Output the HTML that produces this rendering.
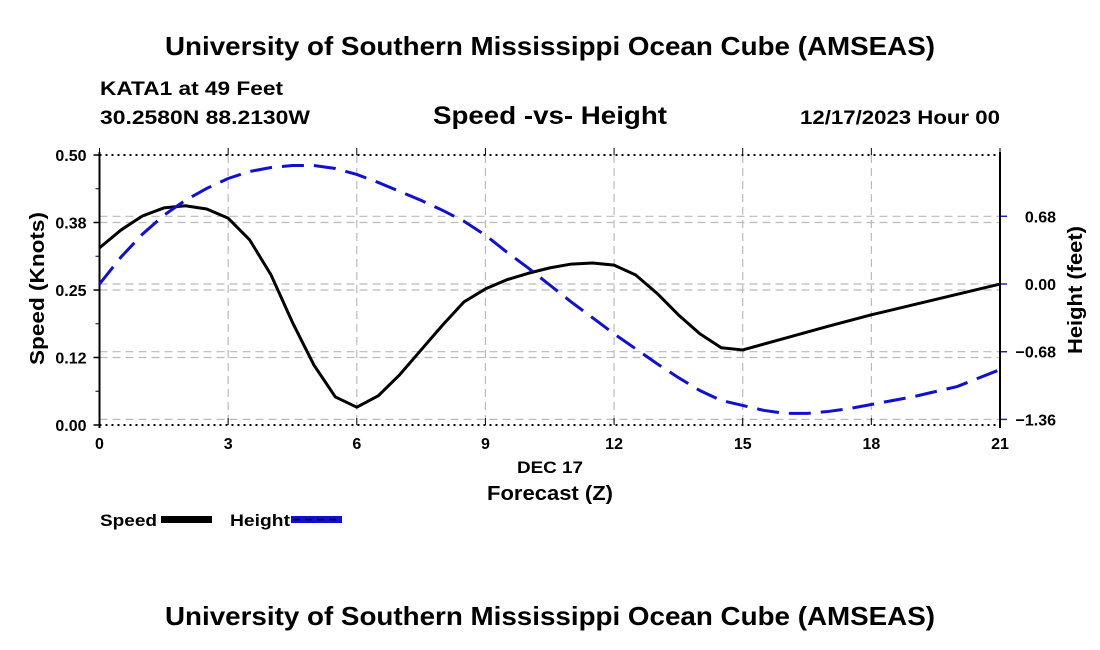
<!DOCTYPE html>
<html><head><meta charset="utf-8"><style>
body{margin:0;background:#fff;width:1100px;height:650px;overflow:hidden}
svg{display:block;font-family:"Liberation Sans",Arial,sans-serif;font-weight:bold}
</style></head><body>
<svg id="chart" width="1100" height="650" viewBox="0 0 1100 650">
<text x="165" y="55" font-size="26" textLength="770" lengthAdjust="spacingAndGlyphs">University of Southern Mississippi Ocean Cube (AMSEAS)</text>
<text x="100" y="95" font-size="19" textLength="183" lengthAdjust="spacingAndGlyphs">KATA1 at 49 Feet</text>
<text x="100" y="124" font-size="19" textLength="210" lengthAdjust="spacingAndGlyphs">30.2580N  88.2130W</text>
<text x="433" y="124" font-size="25" textLength="234" lengthAdjust="spacingAndGlyphs">Speed -vs- Height</text>
<text x="800" y="124" font-size="19" textLength="200" lengthAdjust="spacingAndGlyphs">12/17/2023 Hour 00</text>
<g id="grid"></g>
<g id="axes"></g>
<g id="series"></g>
<text x="517" y="473" font-size="17" textLength="66" lengthAdjust="spacingAndGlyphs">DEC 17</text>
<text x="487" y="500" font-size="20" textLength="126" lengthAdjust="spacingAndGlyphs">Forecast (Z)</text>
<text transform="translate(44,365) rotate(-90)" font-size="20" textLength="153" lengthAdjust="spacingAndGlyphs">Speed (Knots)</text>
<text transform="translate(1082,354) rotate(-90)" font-size="20" textLength="128" lengthAdjust="spacingAndGlyphs">Height (feet)</text>
<g>
<text x="100" y="526" font-size="17" textLength="57" lengthAdjust="spacingAndGlyphs">Speed</text>
<rect x="161" y="516" width="51" height="7" fill="#000"/>
<text x="230" y="526" font-size="17" textLength="60" lengthAdjust="spacingAndGlyphs">Height</text>
<rect x="291" y="516" width="51" height="7" fill="#1010d0"/>
<line x1="293" y1="519.5" x2="340" y2="519.5" stroke="#000" stroke-width="1.5" stroke-dasharray="7,5"/>
</g>
<text x="165" y="625" font-size="26" textLength="770" lengthAdjust="spacingAndGlyphs">University of Southern Mississippi Ocean Cube (AMSEAS)</text>
</svg>
<script>
const xTicks=[0,3,6,9,12,15,18,21];
const leftTicks=[0,0.125,0.25,0.375,0.5];
const leftTickLabels=["0.00","0.12","0.25","0.38","0.50"];
const rightTicks=[-1.36,-0.68,0,0.68];
const rightTickLabels=["\u22121.36","\u22120.68","0.00","0.68"];
const speedHours=[0,0.5,1,1.5,2,2.5,3,3.5,4,4.5,5,5.5,6,6.5,7,7.5,8,8.5,9,9.5,10,10.5,11,11.5,12,12.5,13,13.5,14,14.5,15,16,17,18,19,20,21];
const speedValues=[0.328,0.361,0.387,0.402,0.406,0.40,0.383,0.343,0.278,0.19,0.111,0.052,0.033,0.054,0.093,0.139,0.185,0.228,0.252,0.269,0.281,0.291,0.298,0.30,0.296,0.278,0.244,0.204,0.169,0.143,0.139,0.161,0.183,0.204,0.223,0.242,0.261];
const heightHours=[0,0.5,1,1.5,2,2.5,3,3.5,4,4.5,5,5.5,6,6.5,7,7.5,8,8.5,9,9.5,10,10.5,11,11.5,12,12.5,13,13.5,14,14.5,15,15.5,16,16.5,17,17.5,18,19,20,21];
const heightValues=[0.0,0.27,0.50,0.69,0.84,0.96,1.06,1.13,1.17,1.19,1.19,1.16,1.10,1.02,0.93,0.84,0.74,0.63,0.49,0.32,0.16,-0.01,-0.18,-0.34,-0.50,-0.65,-0.80,-0.94,-1.07,-1.17,-1.22,-1.27,-1.30,-1.30,-1.28,-1.25,-1.21,-1.13,-1.03,-0.86];
const NS="http://www.w3.org/2000/svg";
const X0=99.5,X1=1000,YT=155,YB=425;
const xs=t=>X0+(X1-X0)*t/21;
const yl=v=>YB-(YB-YT)*v/0.5;
const yr=h=>284-h*(67.7/0.68);
function mk(tag,attrs,parent){const e=document.createElementNS(NS,tag);for(const k in attrs)e.setAttribute(k,attrs[k]);parent.appendChild(e);return e;}
const grid=document.getElementById('grid'),axes=document.getElementById('axes'),series=document.getElementById('series');
xTicks.forEach(t=>{if(t>0&&t<21){const l=mk('line',{x1:xs(t),x2:xs(t),y1:YT,y2:YB,stroke:'#bbb','stroke-width':1.2,'stroke-dasharray':'8,5'},grid);

}
const tk=mk('line',{x1:xs(t),x2:xs(t),y1:YB,y2:YB-7,stroke:'#000','stroke-width':1},axes);


const tk2=mk('line',{x1:xs(t),x2:xs(t),y1:YT,y2:YT-7,stroke:'#000','stroke-width':1},axes);


const tx=mk('text',{x:xs(t),y:YB+24,'font-size':16,'text-anchor':'middle'},axes);tx.textContent=t;

});
leftTicks.forEach((v,i)=>{if(v>0&&v<0.5){const l=mk('line',{x1:X0,x2:X1,y1:yl(v),y2:yl(v),stroke:'#bbb','stroke-width':1.2,'stroke-dasharray':'8,5'},grid);

}
const tk=mk('line',{x1:X0-6,x2:X0,y1:yl(v),y2:yl(v),stroke:'#000','stroke-width':1.5},axes);


const tx=mk('text',{x:X0-13,y:yl(v)+6,'font-size':16,'text-anchor':'end'},axes);tx.textContent=leftTickLabels[i];

});
for(let v=0.025;v<0.5;v+=0.0625){const tk=mk('line',{x1:X0-4,x2:X0,y1:yl(v+0.0375),y2:yl(v+0.0375),stroke:'#000','stroke-width':1},axes);

}
rightTicks.forEach((h,i)=>{const l=mk('line',{x1:X0,x2:X1,y1:yr(h),y2:yr(h),stroke:'#bbb','stroke-width':1.2,'stroke-dasharray':'8,5'},grid);


const tk=mk('line',{x1:X1,x2:X1+7,y1:yr(h),y2:yr(h),stroke:'#2222cc','stroke-width':1.5},axes);


const tx=mk('text',{x:X1+56,y:yr(h)+6,'font-size':16,'text-anchor':'end'},axes);tx.textContent=rightTickLabels[i];

});
[[X0,X0],[X1,X1]].forEach(([a,b],i)=>{const l=mk('line',{x1:a,x2:b,y1:YT-3,y2:YB+3,stroke:'#000','stroke-width':2},axes);

});
[YT,YB].forEach((y,i)=>{const l=mk('line',{x1:X0,x2:X1,y1:y,y2:y,stroke:'#000','stroke-width':2,'stroke-dasharray':'2,4'},axes);

});
const sp=mk('polyline',{points:speedHours.map((t,i)=>xs(t)+','+yl(speedValues[i])).join(' '),fill:'none',stroke:'#000','stroke-width':3,'stroke-linejoin':'round'},series);


const ht=mk('polyline',{points:heightHours.map((t,i)=>xs(t)+','+yr(heightValues[i])).join(' '),fill:'none',stroke:'#1010d0','stroke-width':3,'stroke-dasharray':'22,10'},series);


</script>
</body></html>
